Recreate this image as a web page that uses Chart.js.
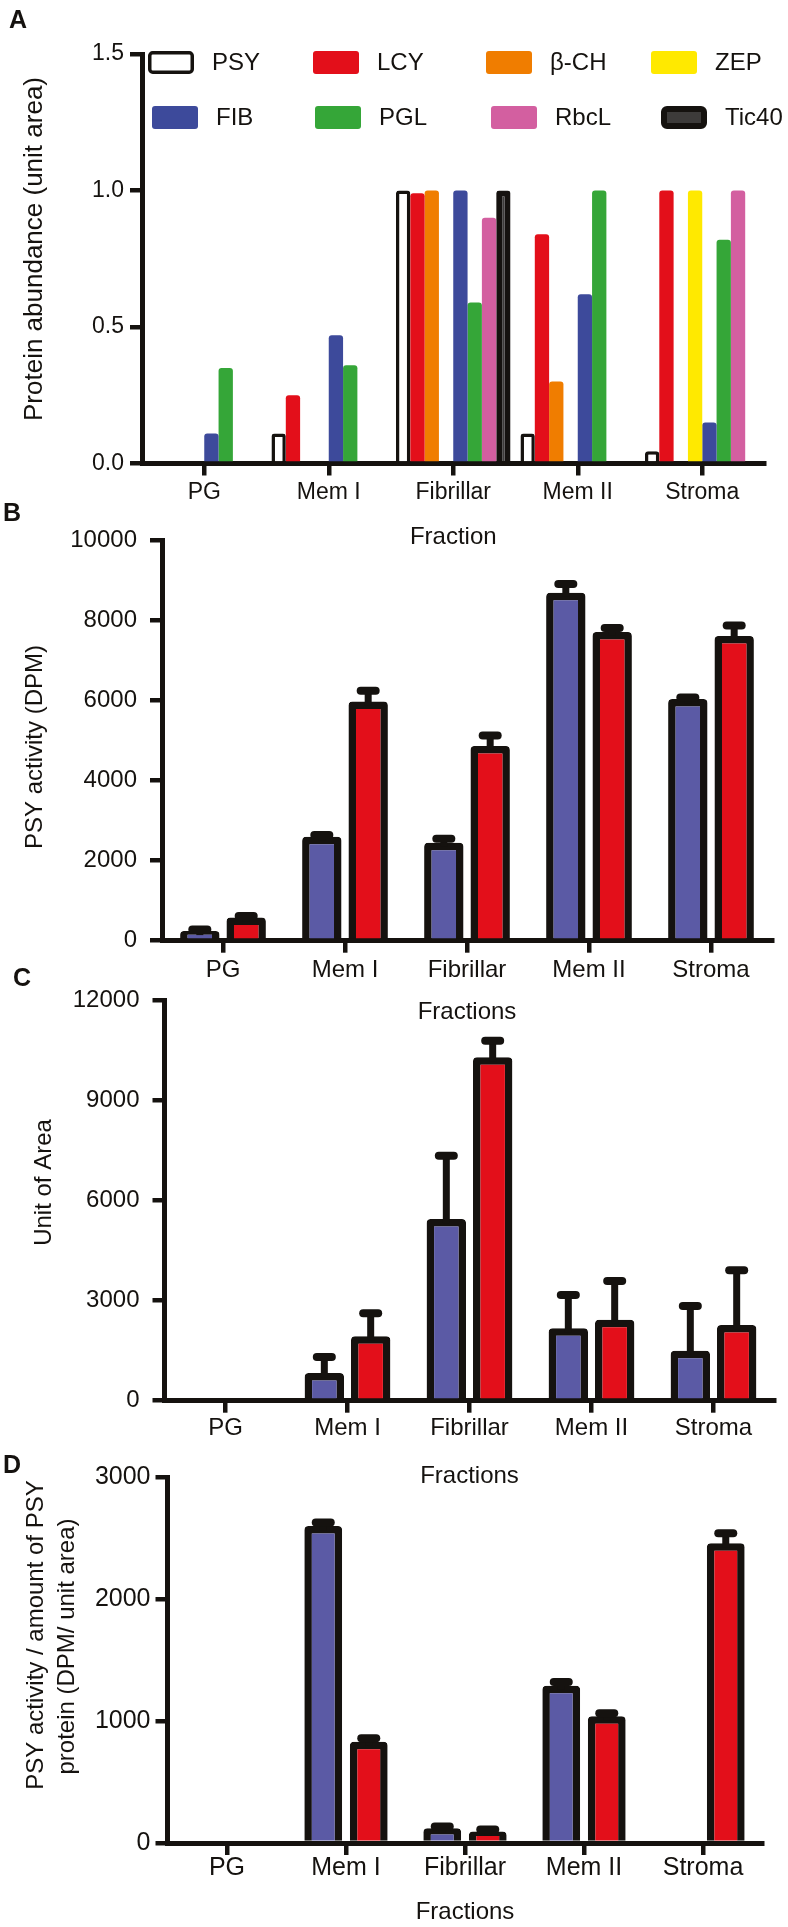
<!DOCTYPE html>
<html>
<head>
<meta charset="utf-8">
<script src="https://cdn.jsdelivr.net/npm/chart.js@4.4.1/dist/chart.umd.min.js"></script>
<style>
  body { margin: 0; background: #fff; }
  #page { position: relative; width: 788px; height: 1927px; overflow: hidden; background: #fff; }
  canvas { position: absolute; left: 0; }
  .tag { position: absolute; font: bold 25px "Liberation Sans", Arial, sans-serif; line-height: 25px; color: #15120f; }
</style>
</head>
<body>
<div id="page">
  <canvas id="chartA" width="788" height="552" style="top:0px"></canvas>
  <canvas id="chartB" width="788" height="547" style="top:480px"></canvas>
  <canvas id="chartC" width="788" height="541" style="top:950px"></canvas>
  <canvas id="chartD" width="788" height="497" style="top:1430px"></canvas>
  <div class="tag" style="left:9px;top:7px">A</div>
  <div class="tag" style="left:3px;top:500px">B</div>
  <div class="tag" style="left:13px;top:965px">C</div>
  <div class="tag" style="left:3px;top:1452px">D</div>
</div>
<script>
const fractions = ["PG", "Mem I", "Fibrillar", "Mem II", "Stroma"];

// A - protein abundance (unit area)
const psy = [0, 0.11, 1.0, 0.11, 0.045];
const lcy = [0, 0.25, 0.99, 0.84, 1.0];
const bch = [0, 0, 1.0, 0.30, 0];
const zep = [0, 0, 0, 0, 1.0];
const fib = [0.11, 0.47, 1.0, 0.62, 0.15];
const pgl = [0.35, 0.36, 0.59, 1.0, 0.82];
const rbcl = [0, 0, 0.90, 0, 1.0];
const tic40 = [0, 0, 1.0, 0, 0];
const ticksA = [0, 0.5, 1.0, 1.5];

// B - PSY activity (DPM)
const activityBlue = [240, 2600, 2450, 8700, 6040];
const activityBlueErr = [40, 40, 100, 220, 40];
const activityRed = [580, 5980, 4870, 7720, 7620];
const activityRedErr = [40, 270, 260, 100, 260];
const ticksB = [0, 2000, 4000, 6000, 8000, 10000];

// C - unit of area
const areaBlue = [null, 830, 5450, 2170, 1500];
const areaBlueErr = [0, 480, 1900, 1000, 1340];
const areaRed = [null, 1930, 10300, 2430, 2270];
const areaRedErr = [0, 690, 500, 1160, 1640];
const ticksC = [0, 3000, 6000, 9000, 12000];

// D - activity / amount of protein
const specBlue = [null, 2600, 120, 1290, null];
const specBlueErr = [0, 30, 15, 30, 0];
const specRed = [null, 830, 95, 1040, 2460];
const specRedErr = [0, 30, 15, 25, 80];
const ticksD = [0, 1000, 2000, 3000];

const ink = "#15120f";
const blue = "#5b5aa5";
const red = "#e30f1a";
const fontFamily = '"Liberation Sans", Arial, sans-serif';

Chart.defaults.font.family = fontFamily;
Chart.defaults.color = ink;

// upward error bars with a round cap
const errorBars = {
  id: "errorBars",
  afterDatasetsDraw(chart) {
    const ctx = chart.ctx;
    const y = chart.scales.y;
    chart.data.datasets.forEach((ds, di) => {
      if (!ds.errors) return;
      chart.getDatasetMeta(di).data.forEach((bar, i) => {
        const v = ds.data[i];
        if (v == null || !ds.errors[i]) return;
        const yEnd = y.getPixelForValue(v + ds.errors[i]);
        ctx.save();
        ctx.strokeStyle = ink;
        ctx.lineWidth = 7;
        ctx.beginPath();
        ctx.moveTo(bar.x, bar.y + 4);
        ctx.lineTo(bar.x, yEnd);
        ctx.stroke();
        ctx.lineWidth = 8;
        ctx.lineCap = "round";
        ctx.beginPath();
        ctx.moveTo(bar.x - 7.5, yEnd);
        ctx.lineTo(bar.x + 7.5, yEnd);
        ctx.stroke();
        ctx.restore();
      });
    });
  }
};

// legend in 2 rows x 4 columns inside the plot
const gridLegend = {
  id: "gridLegend",
  afterDraw(chart, args, opts) {
    if (!opts || !opts.rows) return;
    const ctx = chart.ctx;
    chart.data.datasets.forEach((ds, i) => {
      const row = Math.floor(i / 4);
      const bx = opts.cols[row][i % 4];
      const cy = opts.rows[row];
      const bw = ds.borderWidth || 0;
      ctx.save();
      ctx.beginPath();
      ctx.roundRect(bx + bw / 2, cy - 11.5 + bw / 2, 46 - bw, 23 - bw, 3);
      ctx.fillStyle = ds.backgroundColor;
      ctx.fill();
      if (bw) {
        ctx.lineWidth = bw;
        ctx.strokeStyle = ds.borderColor;
        ctx.stroke();
      }
      ctx.fillStyle = ink;
      ctx.font = "24px " + fontFamily;
      ctx.textBaseline = "middle";
      ctx.fillText(ds.label, bx + 64, cy + 1);
      ctx.restore();
    });
  }
};

// rotated y-axis title lines at set centres
const sideTitle = {
  id: "sideTitle",
  afterDraw(chart, args, o) {
    if (!o || !o.lines) return;
    const ctx = chart.ctx;
    ctx.save();
    ctx.fillStyle = ink;
    ctx.font = o.size + "px " + fontFamily;
    ctx.textAlign = "center";
    ctx.textBaseline = "middle";
    o.lines.forEach((t, i) => {
      ctx.save();
      ctx.translate(o.x[i], o.y[i]);
      ctx.rotate(-Math.PI / 2);
      ctx.fillText(t, 0, 0);
      ctx.restore();
    });
    ctx.restore();
  }
};

function panel(id, datasets, o) {
  return new Chart(document.getElementById(id), {
    type: "bar",
    data: { labels: fractions, datasets: datasets },
    options: {
      responsive: false,
      animation: false,
      devicePixelRatio: 1,
      layout: { padding: { top: o.top, right: o.right, left: 0, bottom: 0 } },
      plugins: {
        legend: { display: false },
        tooltip: { enabled: false },
        gridLegend: o.legend || {},
        sideTitle: o.yTitle
      },
      scales: {
        x: {
          offset: true,
          grid: { offset: false, drawOnChartArea: false, tickLength: 12, lineWidth: 4.5, color: ink },
          border: { display: true, width: 5, color: ink },
          ticks: { color: ink, font: { size: o.tickSize }, padding: o.xPad, autoSkip: false, maxRotation: 0 },
          title: { display: true, text: o.xTitle, color: ink, font: { size: 24 }, padding: { top: 0, bottom: 0 } },
          afterFit: (s) => { s.height = o.xHeight; }
        },
        y: {
          min: o.ticks[0],
          max: o.ticks[o.ticks.length - 1],
          afterBuildTicks: (s) => { s.ticks = o.ticks.map((v) => ({ value: v })); },
          grid: { drawOnChartArea: false, tickLength: 12, lineWidth: 4.5, color: ink },
          border: { display: true, width: 5, color: ink },
          ticks: { color: ink, font: { size: o.tickSize }, padding: o.yPad, callback: o.fmt },
          afterFit: (s) => { s.width = o.left; }
        }
      }
    },
    plugins: [errorBars, gridLegend, sideTitle]
  });
}

function pair(b, be, r, re, cat, bar) {
  const base = { borderColor: ink, borderWidth: 7.5, borderSkipped: "start", borderRadius: 4,
    categoryPercentage: cat, barPercentage: bar };
  return [
    Object.assign({ label: "Series 1", data: b, errors: be, backgroundColor: blue }, base),
    Object.assign({ label: "Series 2", data: r, errors: re, backgroundColor: red }, base)
  ];
}

// A
const proteinSet = (label, data, color, extra) => Object.assign({
  label: label, data: data, backgroundColor: color, borderWidth: 0,
  borderRadius: { topLeft: 3, topRight: 3 }, categoryPercentage: 0.92, barPercentage: 1.0
}, extra || {});

panel("chartA", [
  proteinSet("PSY", psy, "#ffffff", { borderColor: ink, borderWidth: 3.5, borderSkipped: "start" }),
  proteinSet("LCY", lcy, "#e30f1a"),
  proteinSet("β-CH", bch, "#f07d00"),
  proteinSet("ZEP", zep, "#ffe900"),
  proteinSet("FIB", fib, "#3d4a9b"),
  proteinSet("PGL", pgl, "#35a638"),
  proteinSet("RbcL", rbcl, "#d35fa0"),
  proteinSet("Tic40", tic40, "#3d3b3a", { borderColor: ink, borderWidth: 6, borderSkipped: "start" })
], {
  top: 54, right: 23.5, left: 142, xHeight: 88.5, ticks: ticksA, tickSize: 23,
  xPad: 3, yPad: 6, fmt: (v) => Number(v).toFixed(1),
  xTitle: "Fraction",
  yTitle: { lines: ["Protein abundance (unit area)"], x: [35], y: [249], size: 26 },
  legend: { rows: [62.5, 117.5], cols: [[148, 313, 486, 651], [152, 315, 491, 661]] }
});

// B
panel("chartB", pair(activityBlue, activityBlueErr, activityRed, activityRedErr, 0.76, 0.85), {
  top: 60.7, right: 16, left: 162, xHeight: 86.3, ticks: ticksB, tickSize: 24,
  xPad: 3.4, yPad: 13, fmt: (v) => String(v),
  xTitle: "Fractions",
  yTitle: { lines: ["PSY activity (DPM)"], x: [35], y: [267], size: 24 }
});

// C
panel("chartC", pair(areaBlue, areaBlueErr, areaRed, areaRedErr, 0.76, 0.85), {
  top: 50.7, right: 13.5, left: 164.5, xHeight: 90.3, ticks: ticksC, tickSize: 24,
  xPad: 1.4, yPad: 13, fmt: (v) => String(v),
  xTitle: "Fractions",
  yTitle: { lines: ["Unit of Area"], x: [44], y: [232.5], size: 24 }
});

// D
panel("chartD", pair(specBlue, specBlueErr, specRed, specRedErr, 0.765, 0.83), {
  top: 47.3, right: 25.5, left: 167.5, xHeight: 84, ticks: ticksD, tickSize: 25,
  xPad: -2, yPad: 5, fmt: (v) => String(v),
  xTitle: "Fractions",
  yTitle: { lines: ["PSY activity / amount of PSY", "protein (DPM/ unit area)"], x: [36, 67], y: [205, 216.5], size: 24 }
});
</script>
</body>
</html>
